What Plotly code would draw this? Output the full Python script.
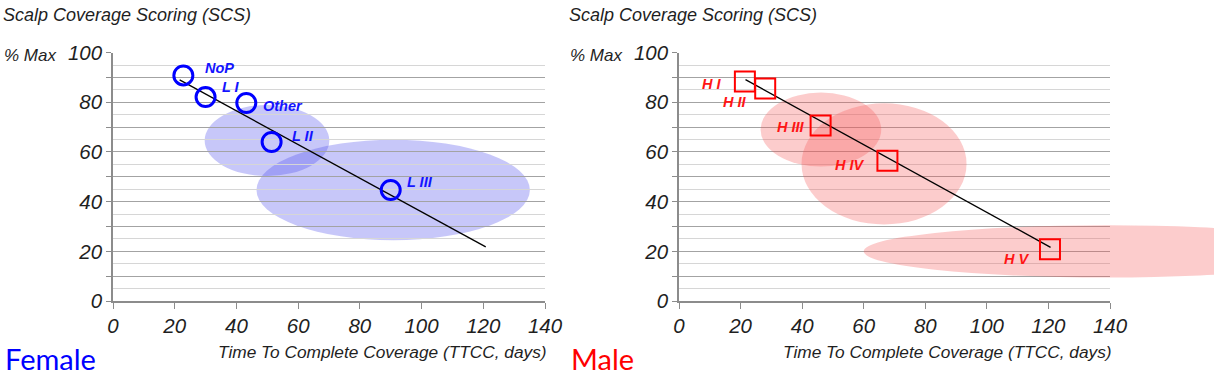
import plotly.graph_objects as go

# ---------------- data ----------------
x_ticks = [0, 20, 40, 60, 80, 100, 120, 140]
y_ticks = [0, 10, 20, 30, 40, 50, 60, 70, 80, 90, 100]
y_ticktext = ["0", "", "20", "", "40", "", "60", "", "80", "", "100"]
y_minor = [5, 15, 25, 35, 45, 55, 65, 75, 85, 95]

# Female
f_names = ["NoP", "L I", "Other", "L II", "L III"]
f_ttcc = [22.8, 30.0, 43.2, 51.4, 90.0]
f_scs = [90.8, 82.1, 79.7, 64.0, 44.7]
f_label_x = [34.4, 38.3, 55.2, 61.7, 99.5]
f_label_y = [94.0, 86.3, 78.6, 66.5, 48.0]
f_trend_x = [21.6, 120.8]
f_trend_y = [89.0, 21.8]
# ellipses: centre x, centre y, radius x, radius y
f_ell_cx = [49.9, 90.8]
f_ell_cy = [64.6, 44.7]
f_ell_rx = [20.2, 44.3]
f_ell_ry = [14.3, 20.2]

# Male
m_names = ["H I", "H II", "H III", "H IV", "H V"]
m_ttcc = [21.4, 28.0, 46.0, 67.7, 120.5]
m_scs = [88.4, 85.5, 70.7, 56.5, 20.8]
m_label_x = [10.7, 18.2, 36.3, 55.7, 109.8]
m_label_y = [87.5, 80.0, 70.0, 54.8, 16.8]
m_trend_x = [21.6, 120.7]
m_trend_y = [89.1, 21.6]
m_ell_cx = [46.1, 66.6, 139.0]
m_ell_cy = [69.0, 55.2, 20.0]
m_ell_rx = [19.6, 26.8, 79.0]
m_ell_ry = [14.9, 24.4, 10.5]

# ---------------- layout constants ----------------
W, H = 1214, 375
L_DOM = [113 / W, 545 / W]
R_DOM = [679 / W, 1110 / W]
R_EXT = [679 / W, 1.0]
Y_DOM = [(H - 301) / H, (H - 52.6) / H]
X_MAX = 140
X_EXT_MAX = X_MAX * (R_EXT[1] - R_EXT[0]) / (R_DOM[1] - R_DOM[0])

FONT = "Liberation Sans, Arial, sans-serif"
TXT = "#1f1f1f"
MAJOR = "#a3a3a3"
MINOR = "#d6d6d6"
AXIS = "#8c8c8c"

fig = go.Figure()

# Female traces
fig.add_trace(go.Scatter(x=f_trend_x, y=f_trend_y, mode="lines",
                         line=dict(color="black", width=1.3),
                         xaxis="x", yaxis="y", hoverinfo="skip", showlegend=False))
fig.add_trace(go.Scatter(x=f_ttcc, y=f_scs, mode="markers",
                         marker=dict(symbol="circle-open", size=19, color="#0000ff",
                                     line=dict(width=3, color="#0000ff")),
                         xaxis="x", yaxis="y", text=f_names, showlegend=False))

# Male traces (on an extended overlay axis so the flat ellipse can run past the plot edge)
fig.add_trace(go.Scatter(x=m_trend_x, y=m_trend_y, mode="lines",
                         line=dict(color="black", width=1.3),
                         xaxis="x3", yaxis="y3", hoverinfo="skip", showlegend=False))
fig.add_trace(go.Scatter(x=m_ttcc, y=m_scs, mode="markers",
                         marker=dict(symbol="square-open", size=20, color="#ff0000",
                                     line=dict(width=2, color="#ff0000")),
                         xaxis="x3", yaxis="y3", text=m_names, showlegend=False))
# dummy trace so the x2/y2 axes are drawn
fig.add_trace(go.Scatter(x=[None], y=[None], xaxis="x2", yaxis="y2",
                         showlegend=False, hoverinfo="skip"))

shapes = []
for cx, cy, rx, ry in zip(f_ell_cx, f_ell_cy, f_ell_rx, f_ell_ry):
    shapes.append(dict(type="circle", xref="x", yref="y",
                       x0=cx - rx, x1=cx + rx, y0=cy - ry, y1=cy + ry,
                       fillcolor="rgba(70,70,235,0.30)", line=dict(width=0),
                       layer="below"))
for cx, cy, rx, ry in zip(m_ell_cx, m_ell_cy, m_ell_rx, m_ell_ry):
    shapes.append(dict(type="circle", xref="x3", yref="y3",
                       x0=cx - rx, x1=cx + rx, y0=cy - ry, y1=cy + ry,
                       fillcolor="rgba(245,85,85,0.30)", line=dict(width=0),
                       layer="below"))

annotations = []
for name, lx, ly in zip(f_names, f_label_x, f_label_y):
    annotations.append(dict(x=lx, y=ly, xref="x", yref="y", text=f"<b><i>{name}</i></b>",
                            showarrow=False, font=dict(family=FONT, size=14.5, color="#1414ff")))
for name, lx, ly in zip(m_names, m_label_x, m_label_y):
    annotations.append(dict(x=lx, y=ly, xref="x3", yref="y3", text=f"<b><i>{name}</i></b>",
                            showarrow=False, font=dict(family=FONT, size=14.5, color="#ff1414")))

for px, label, lcol in [(1, "Female", "#0000ff"), (567, "Male", "#ff0000")]:
    annotations.append(dict(x=px / W, y=1 - 3 / H, xref="paper", yref="paper",
                            xanchor="left", yanchor="top", showarrow=False,
                            text="<i>Scalp Coverage Scoring (SCS)</i>",
                            font=dict(family=FONT, size=18, color=TXT)))
    annotations.append(dict(x=(px + 1) / W, y=1 - 55 / H, xref="paper", yref="paper",
                            xanchor="left", yanchor="middle", showarrow=False,
                            text="<i>% Max</i>", font=dict(family=FONT, size=17, color=TXT)))
    annotations.append(dict(x=(px + 2) / W, y=1 - 358 / H, xref="paper", yref="paper",
                            xanchor="left", yanchor="middle", showarrow=False,
                            text=label, font=dict(family="Lato, Open Sans, sans-serif",
                                                  size=29, color=lcol)))
for xr in ["x domain", "x2 domain"]:
    annotations.append(dict(x=1.01, y=1 - 352 / H, xref=xr, yref="paper",
                            xanchor="right", yanchor="middle", showarrow=False,
                            text="<i>Time To Complete Coverage (TTCC, days)</i>",
                            font=dict(family=FONT, size=17.3, color=TXT)))


def xaxis(dom, anchor):
    return dict(domain=dom, anchor=anchor, range=[0, X_MAX], tickmode="array",
                tickvals=x_ticks, ticktext=[str(v) for v in x_ticks],
                ticks="outside", ticklen=6, tickcolor=AXIS, tickwidth=1.2,
                showline=True, linecolor=AXIS, linewidth=1.5,
                showgrid=False, zeroline=False, fixedrange=True, automargin=False,
                tickfont=dict(family=FONT, size=20.5, color=TXT, style="italic"))


def yaxis(anchor):
    return dict(domain=Y_DOM, anchor=anchor, range=[0, 100], tickmode="array",
                tickvals=y_ticks, ticktext=y_ticktext,
                ticks="outside", ticklen=5, tickcolor=AXIS, tickwidth=1.2,
                showline=True, linecolor=AXIS, linewidth=1.5,
                showgrid=True, gridcolor=MAJOR, gridwidth=1.2, zeroline=False,
                minor=dict(tickmode="array", tickvals=y_minor, showgrid=True,
                           gridcolor=MINOR, gridwidth=1, ticks=""),
                tickfont=dict(family=FONT, size=20.5, color=TXT, style="italic"),
                fixedrange=True, automargin=False)


fig.update_layout(
    width=W, height=H, margin=dict(l=0, r=0, t=0, b=0, pad=0, autoexpand=False),
    paper_bgcolor="white", plot_bgcolor="rgba(0,0,0,0)",
    showlegend=False,
    xaxis=xaxis(L_DOM, "y"),
    yaxis=yaxis("x"),
    xaxis2=xaxis(R_DOM, "y2"),
    yaxis2=yaxis("x2"),
    xaxis3=dict(domain=R_EXT, anchor="y3", range=[0, X_EXT_MAX], visible=False, fixedrange=True),
    yaxis3=dict(domain=Y_DOM, anchor="x3", range=[0, 100], visible=False, fixedrange=True),
    shapes=shapes, annotations=annotations,
)

fig.write_html("out.html", config={"displayModeBar": False},
               post_script="document.body.style.margin='0';document.body.style.overflow='hidden';")
